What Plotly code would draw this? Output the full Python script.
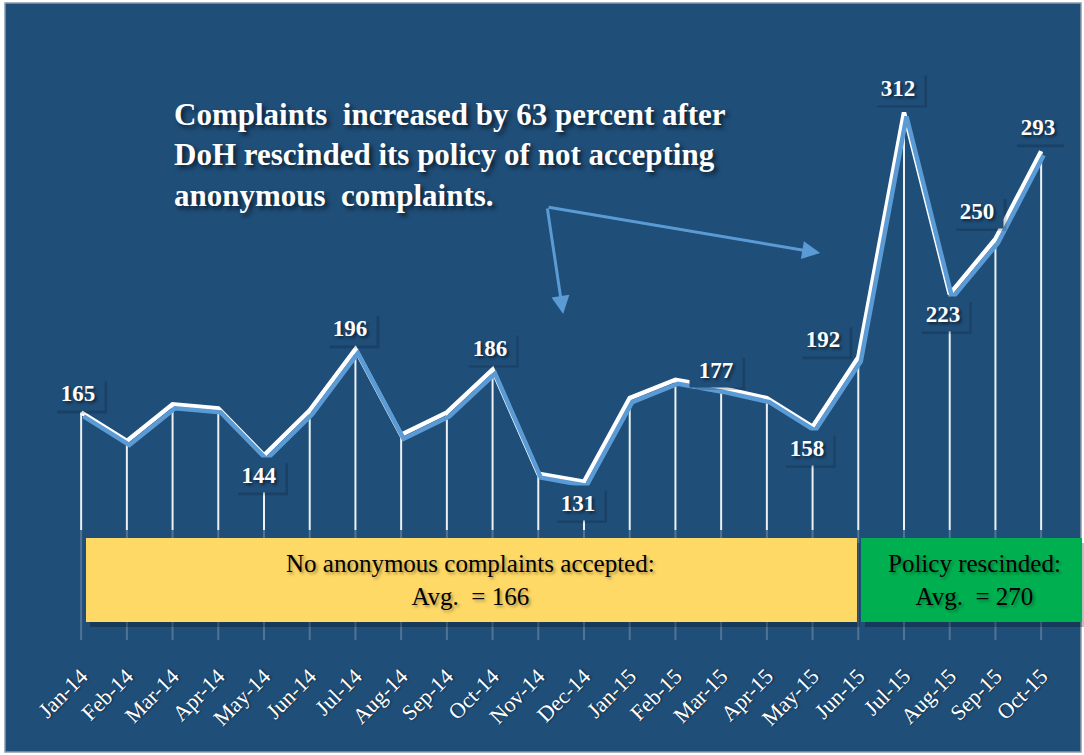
import plotly.graph_objects as go

months = ["Jan-14","Feb-14","Mar-14","Apr-14","May-14","Jun-14","Jul-14","Aug-14","Sep-14","Oct-14",
          "Nov-14","Dec-14","Jan-15","Feb-15","Mar-15","Apr-15","May-15","Jun-15","Jul-15","Aug-15",
          "Sep-15","Oct-15"]
complaints = [165,151,169,167,144,166,196,154,165,186,135,131,172,181,177,172,158,192,312,223,250,293]
labeled = {"Jan-14": (-3, 19), "May-14": (-5, -20), "Jul-14": (-5, 21), "Oct-14": (-3, 22),
           "Dec-14": (-6, -21), "Mar-15": (-5, 18), "May-15": (-6, -21), "Jun-15": (-35, 18),
           "Jul-15": (-6, 25), "Aug-15": (-7, -20), "Sep-15": (-18, 28), "Oct-15": (-3, 24)}
note_text = "Complaints  increased by 63 percent after<br>DoH rescinded its policy of not accepting<br>anonymous  complaints."
box1_text = "No anonymous complaints accepted:<br>Avg.  = 166"
box2_text = "Policy rescinded:<br>Avg.  = 270"

BG = "#1F4E79"
SERIF = "Liberation Serif, Times New Roman, serif"
SHADOW = "2px 2px 3px rgba(0,0,0,0.55)"

# plot area in pixels
L, R, T, B = 40, 1064, 60, 640
W, H = 1084, 755
xr = [-0.9, 21.5]
ppx = (R - L) / (xr[1] - xr[0])
ppy = 2.04
y_bottom = (749 - B) / ppy
y_top = (749 - T) / ppy
yr = [y_bottom, y_top]

def px(x):
    return (x - L) / (R - L)

def py(y):
    return (B - y) / (B - T)

idx = list(range(len(months)))

fig = go.Figure()

# drop lines
dx, dy, fx, fy = [], [], [], []
mid = (749 - 530) / ppy
for i, v in zip(idx, complaints):
    dx += [i, i, None]; dy += [v, mid, None]
    fx += [i, i, None]; fy += [mid, y_bottom, None]
fig.add_trace(go.Scatter(x=dx, y=dy, mode="lines", line=dict(color="rgba(255,255,255,0.92)", width=2),
                         hoverinfo="skip", showlegend=False))
fig.add_trace(go.Scatter(x=fx, y=fy, mode="lines", line=dict(color="rgba(255,255,255,0.22)", width=2),
                         hoverinfo="skip", showlegend=False))

# shadow line on offset axes
sx, sy = 2.5 / ppx, 4 / ppy
fig.add_trace(go.Scatter(x=idx, y=complaints, mode="lines", xaxis="x2", yaxis="y2",
                         line=dict(color="#5B9BD5", width=4.5), hoverinfo="skip", showlegend=False))
fig.add_trace(go.Scatter(x=idx, y=complaints, mode="lines",
                         line=dict(color="white", width=4.5), showlegend=False))

shapes = []
# background panel
shapes.append(dict(type="rect", xref="paper", yref="paper", x0=px(5), x1=px(1081), y0=py(752), y1=py(3),
                   fillcolor=BG, line=dict(color="#8a9aab", width=1.5), layer="below"))
# box shadows
for (x0, x1) in [(86, 857), (861, 1082)]:
    shapes.append(dict(type="rect", xref="paper", yref="paper", x0=px(x0 + 4), x1=px(x1 + 3),
                       y0=py(627), y1=py(543), fillcolor="rgba(0,0,0,0.25)", line=dict(width=0), layer="above"))
shapes.append(dict(type="rect", xref="paper", yref="paper", x0=px(86), x1=px(857), y0=py(622), y1=py(538),
                   fillcolor="#FFD966", line=dict(width=0), layer="above"))
shapes.append(dict(type="rect", xref="paper", yref="paper", x0=px(861), x1=px(1082), y0=py(622), y1=py(538),
                   fillcolor="#00B050", line=dict(width=0), layer="above"))

# soft shadows behind value-label boxes (pixel-sized, anchored at the data point)
for m, (xs, ys) in labeled.items():
    i = months.index(m)
    v = complaints[i]
    cx, cy = xs + 4, ys - 4
    shapes.append(dict(type="rect", xref="x", yref="y", xsizemode="pixel", ysizemode="pixel",
                       xanchor=i, yanchor=v, x0=cx - 25, x1=cx + 25, y0=cy - 16, y1=cy + 16,
                       fillcolor="rgba(0,0,0,0.16)", line=dict(width=0), layer="above"))

ann = []
for m, (xs, ys) in labeled.items():
    i = months.index(m)
    v = complaints[i]
    ann.append(dict(x=i, y=v, xref="x", yref="y", text="<b>%d</b>" % v, showarrow=False, xshift=xs, yshift=ys,
                    width=50, height=32, bgcolor=BG,
                    font=dict(family=SERIF, size=23, color="white", shadow=SHADOW)))

ann.append(dict(x=px(172), y=py(155), xref="paper", yref="paper", xanchor="left", yanchor="middle",
                text="<b>" + note_text + "</b>", showarrow=False, align="left",
                font=dict(family=SERIF, size=31, color="white", shadow="3px 3px 4px rgba(0,0,0,0.6)")))
# arrows
for hx, hy in [(563, 314), (820, 253)]:
    xi = (hx - 81) / ppx
    yv = (749 - hy) / ppy
    ann.append(dict(x=xi, y=yv, xref="x", yref="y", ax=547 - hx, ay=207 - hy, text="", showarrow=True,
                    arrowhead=2, arrowsize=1.2, arrowwidth=3, arrowcolor="#5B9BD5"))

ann.append(dict(x=px(470), y=py(580), xref="paper", yref="paper", xanchor="center", yanchor="middle",
                text=box1_text, showarrow=False,
                font=dict(family=SERIF, size=25, color="black", shadow="2px 2px 3px rgba(0,0,0,0.35)")))
ann.append(dict(x=px(974), y=py(580), xref="paper", yref="paper", xanchor="center", yanchor="middle",
                text=box2_text, showarrow=False,
                font=dict(family=SERIF, size=25, color="black", shadow="2px 2px 3px rgba(0,0,0,0.35)")))

fig.update_layout(
    width=W, height=H,
    margin=dict(l=L, r=W - R, t=T, b=H - B),
    paper_bgcolor="white", plot_bgcolor="rgba(0,0,0,0)",
    shapes=shapes, annotations=ann, showlegend=False,
    xaxis=dict(range=xr, tickmode="array", tickvals=idx, ticktext=months, tickangle=-45,
               showgrid=False, zeroline=False, showline=False, ticks="", ticklabelstandoff=18,
               tickfont=dict(family=SERIF, size=22, color="white", shadow="1px 1px 2px rgba(0,0,0,0.5)")),
    yaxis=dict(range=yr, showgrid=False, zeroline=False, showticklabels=False, showline=False),
    xaxis2=dict(range=[xr[0] - sx, xr[1] - sx], overlaying="x", visible=False),
    yaxis2=dict(range=[yr[0] + sy, yr[1] + sy], overlaying="y", visible=False),
)

fig.write_html("out.html", config={"displayModeBar": False},
               post_script="document.body.style.margin='0';")
